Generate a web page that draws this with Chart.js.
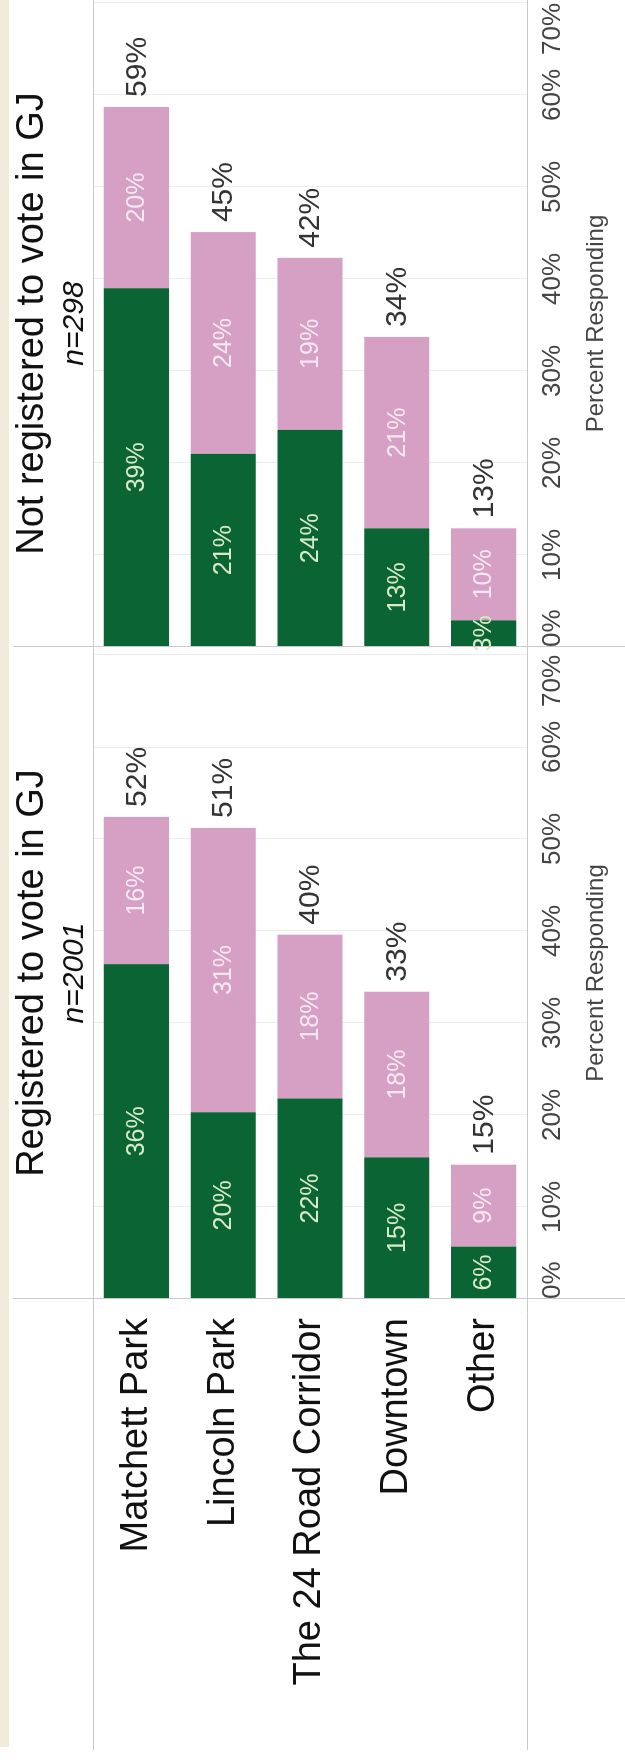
<!DOCTYPE html>
<html>
<head>
<meta charset="utf-8">
<script src="https://cdn.jsdelivr.net/npm/chart.js@4.4.1/dist/chart.umd.min.js"></script>
<style>
  html, body { margin: 0; padding: 0; background: #fff; overflow: hidden; }
  /* chart is laid out 1760x625 and turned a quarter to the left, like the scan */
  #frame { position: absolute; left: 0; top: 0; width: 1760px; height: 625px;
           transform-origin: 0 0; transform: translateY(1760px) rotate(-90deg); }
</style>
</head>
<body>
<div id="frame"><canvas id="myChart" width="1760" height="625"></canvas></div>
<script>
let categories = ['Matchett Park', 'Lincoln Park', 'The 24 Road Corridor', 'Downtown', 'Other'];
let regGreen = [36.4, 20.3, 21.8, 15.4, 5.7];
let regPink = [16.0, 30.9, 17.8, 18.0, 8.9];
let notRegGreen = [39.0, 21.0, 23.6, 12.9, 2.9];
let notRegPink = [19.7, 24.1, 18.7, 20.8, 10.0];
let panelTitles = ['Registered to vote in GJ', 'Not registered to vote in GJ'];
let panelCounts = ['n=2001', 'n=298'];
let tickStep = 10;

let green = '#0b6434';
let pink = '#d5a0c3';
let font = 'Arial, "Liberation Sans", sans-serif';
let pxPerPct = 9.2;

let panelLines = {
  id: 'panelLines',
  beforeDraw(chart) {
    let ctx = chart.ctx;
    ctx.save();
    ctx.fillStyle = '#f2eadb';
    ctx.fillRect(13, 0, chart.width - 13, 9);
    ctx.restore();
  },
  afterDatasetsDraw(chart) {
    let ctx = chart.ctx;
    let area = chart.chartArea;
    let x1 = chart.scales.x1;
    ctx.save();

    // bar labels
    ctx.textBaseline = 'middle';
    chart.data.datasets.forEach((ds, di) => {
      let meta = chart.getDatasetMeta(di);
      meta.data.forEach((bar, i) => {
        let p = bar.getProps(['x', 'y', 'base'], true);
        ctx.font = '25px ' + font;
        ctx.fillStyle = ds.labelColor;
        ctx.textAlign = 'center';
        ctx.fillText(Math.round(ds.data[i]) + '%', (p.x + p.base) / 2, p.y + 1);
        if (ds.total) {
          let sum = ds.data[i] + chart.data.datasets[di - 1].data[i];
          ctx.font = '30px ' + font;
          ctx.fillStyle = '#333';
          ctx.textAlign = 'left';
          ctx.fillText(Math.round(sum) + '%', p.x + 10, p.y + 1);
        }
      });
    });

    // frame
    ctx.strokeStyle = '#c9c9c9';
    ctx.lineWidth = 1;
    ctx.beginPath();
    ctx.moveTo(10, area.top + 0.5); ctx.lineTo(chart.width, area.top + 0.5);
    ctx.moveTo(10, area.bottom + 0.5); ctx.lineTo(chart.width, area.bottom + 0.5);
    ctx.moveTo(area.left + 0.5, 13); ctx.lineTo(area.left + 0.5, chart.height);
    ctx.moveTo(x1.right + 0.5, 13); ctx.lineTo(x1.right + 0.5, chart.height);
    ctx.stroke();

    // panel headers
    ['x1', 'x2'].forEach((id, k) => {
      let s = chart.scales[id];
      let cx = (s.left + s.right) / 2;
      ctx.fillStyle = '#111';
      ctx.textAlign = 'center';
      ctx.textBaseline = 'alphabetic';
      ctx.font = '38px ' + font;
      ctx.fillText(panelTitles[k], cx, 43);
      ctx.font = 'italic 30px ' + font;
      ctx.fillText(panelCounts[k], cx, 83);
    });
    ctx.restore();
  }
};

function valueAxis(weight) {
  return {
    type: 'linear',
    position: 'bottom',
    stack: 'panels',
    stackWeight: weight,
    stacked: true,
    min: 0,
    max: weight / pxPerPct,
    grid: { color: '#ececec', drawTicks: false },
    border: { display: false },
    ticks: {
      stepSize: tickStep,
      includeBounds: false,
      align: 'inner',
      autoSkip: false,
      maxRotation: 0,
      padding: 10,
      color: '#444',
      font: { family: font, size: 26 },
      callback: v => v + '%'
    },
    title: {
      display: true,
      text: 'Percent Responding',
      color: '#444',
      font: { family: font, size: 24 },
      padding: { top: 0, bottom: 14 }
    },
    afterFit: s => {
      s.height = 98;
      s.paddingLeft = 0;
      s.paddingRight = 0;
    }
  };
}

let myChart = document.getElementById('myChart').getContext('2d');

let chart = new Chart(myChart, {
  type: 'bar',
  data: {
    labels: categories,
    datasets: [
      { data: regGreen, xAxisID: 'x1', backgroundColor: green, labelColor: '#d6ebc6' },
      { data: regPink, xAxisID: 'x1', backgroundColor: pink, labelColor: '#f7e8f1', total: true },
      { data: notRegGreen, xAxisID: 'x2', backgroundColor: green, labelColor: '#d6ebc6' },
      { data: notRegPink, xAxisID: 'x2', backgroundColor: pink, labelColor: '#f7e8f1', total: true }
    ]
  },
  options: {
    indexAxis: 'y',
    responsive: false,
    animation: false,
    barPercentage: 0.75,
    categoryPercentage: 1,
    layout: { padding: { top: 93, left: 0, right: 0, bottom: 0 } },
    plugins: {
      legend: { display: false },
      tooltip: { enabled: false }
    },
    scales: {
      y: {
        type: 'category',
        stacked: true,
        grid: { display: false },
        border: { display: false },
        ticks: {
          autoSkip: false,
          padding: 11,
          color: '#111',
          font: { family: font, size: 38 }
        },
        afterFit: s => {
          s.width = 461;
          s.paddingTop = 0;
          s.paddingBottom = 0;
        }
      },
      x1: valueAxis(652),
      x2: valueAxis(647)
    }
  },
  plugins: [panelLines]
});
</script>
</body>
</html>
